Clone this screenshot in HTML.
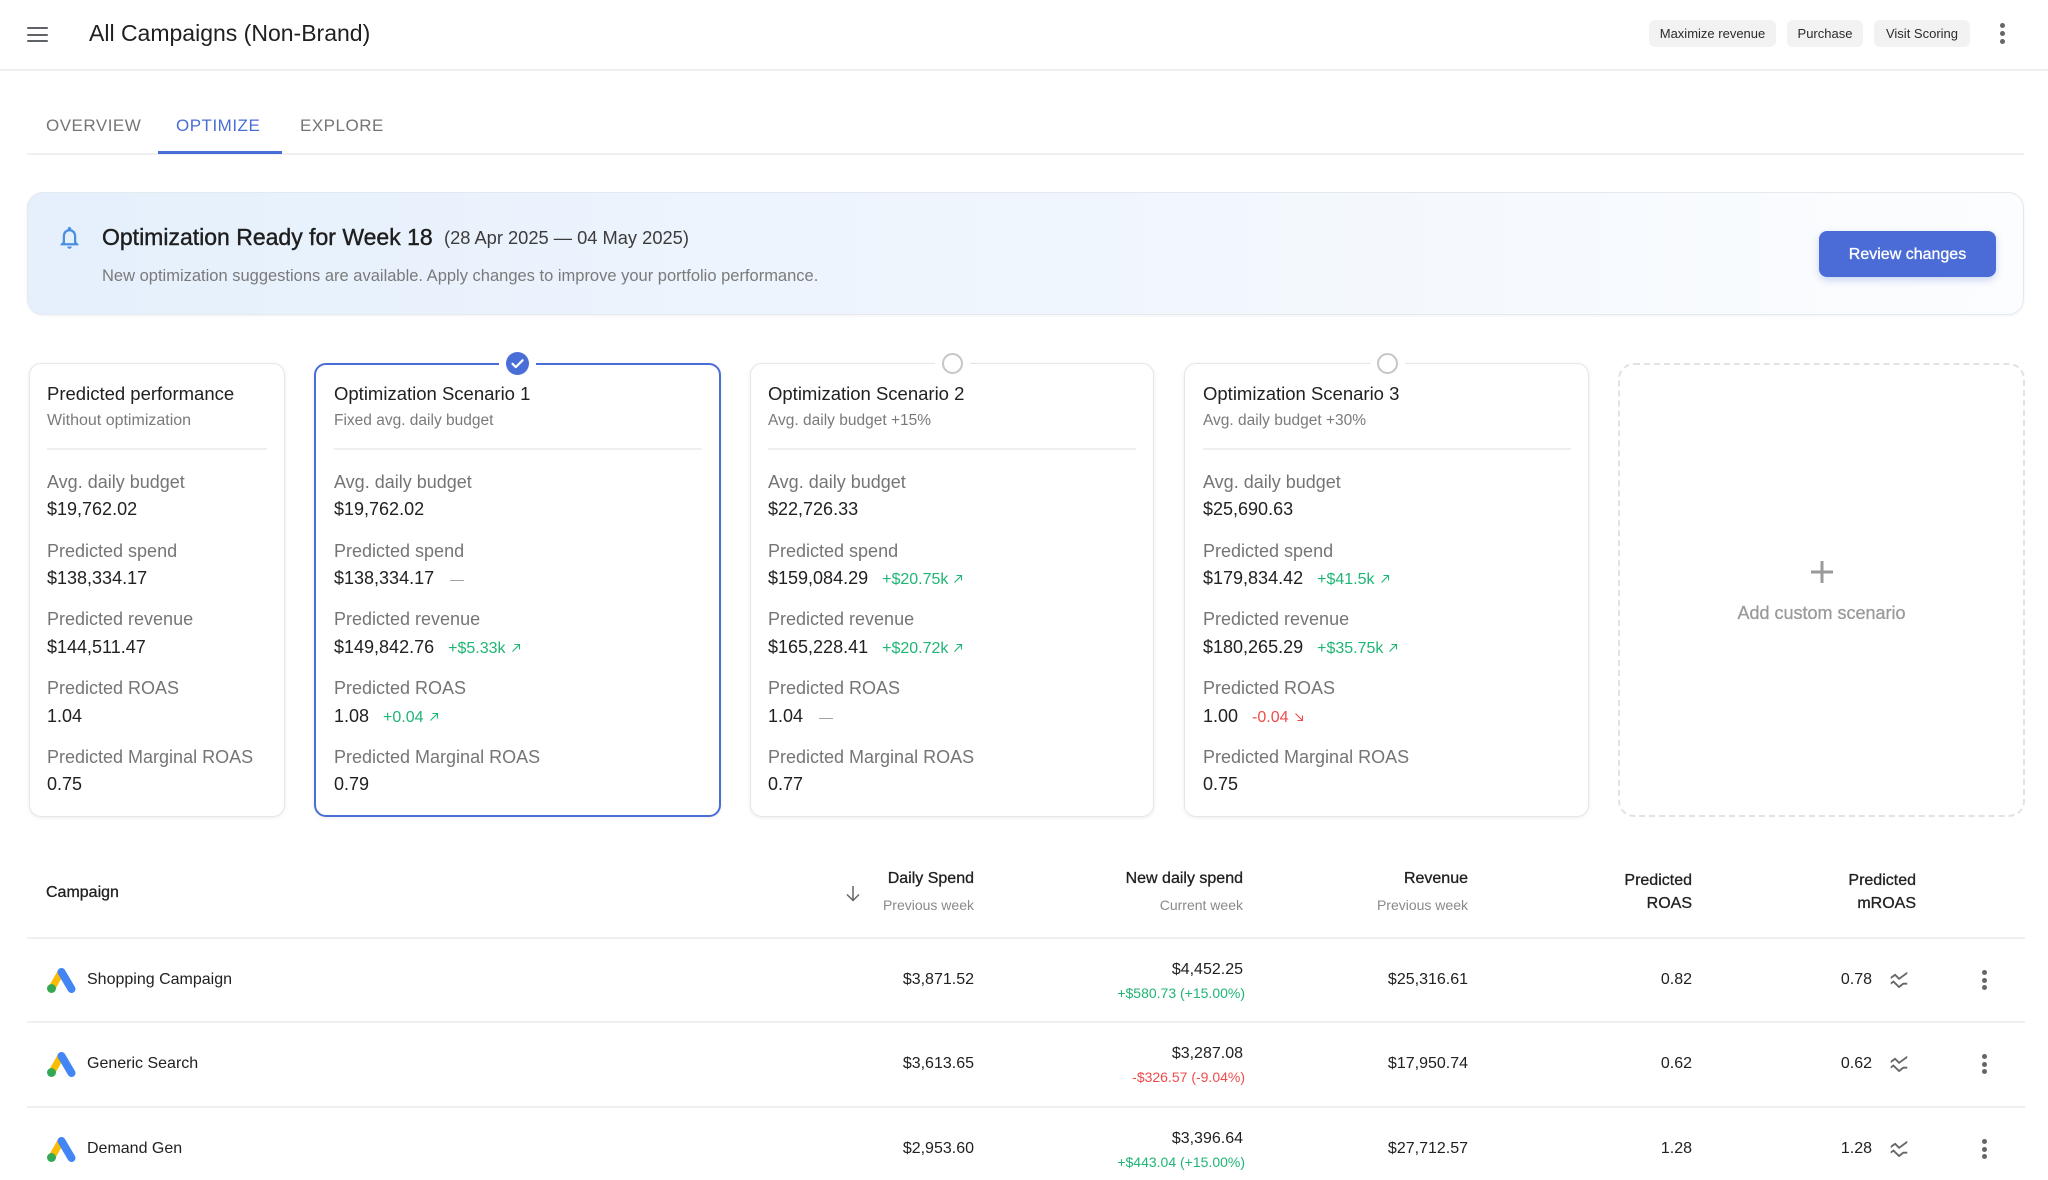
<!DOCTYPE html>
<html><head><meta charset="utf-8">
<style>
*{box-sizing:border-box;margin:0;padding:0}
body{width:2048px;height:1180px;overflow:hidden;background:#fff;font-family:"Liberation Sans",Arial,sans-serif;color:#212121;position:relative}
.a{position:absolute;white-space:nowrap}
.hb{position:absolute;left:27px;width:21px;height:2.4px;background:#5f6368;border-radius:1px}
.chip{position:absolute;top:20px;height:27px;line-height:27px;font-size:13px;color:#2b2b2b;background:#f2f2f2;border-radius:6px;text-align:center}
.dot{position:absolute;width:5px;height:5px;border-radius:50%;background:#666}
.tab{position:absolute;top:116px;line-height:20px;font-size:17px;letter-spacing:0.5px;color:#757575}
.card{position:absolute;top:363px;height:454px;border:1px solid #e6e6e6;border-radius:12px;background:#fff;box-shadow:0 1px 4px rgba(0,0,0,0.07)}
.ct{font-size:18.5px;line-height:24px;color:#212121}
.cs{font-size:15.5px;line-height:20px;color:#7a7a7a}
.lb{font-size:18px;line-height:24px;color:#757575}
.vl{font-size:18px;line-height:24px;color:#212121}
.g{color:#1fb574;font-size:16px;margin-left:14px}
.r{color:#f04b4b;font-size:16px;margin-left:14px}
.ds{color:#9e9e9e;font-size:14px;margin-left:16px}
.hr{position:absolute;height:2px;background:#efefef}
.th{font-size:16px;line-height:20px;color:#212121;-webkit-text-stroke:0.3px #212121}
.tsub{font-size:14px;line-height:18px;color:#8a8a8a}
.td{font-size:16px;line-height:20px;color:#212121}
.tg{font-size:14px;line-height:18px;color:#1fb574}
.tr{font-size:14px;line-height:18px;color:#f04b4b}
</style></head><body>

<!-- Top bar -->
<div class="hb" style="top:27px"></div>
<div class="hb" style="top:33.5px"></div>
<div class="hb" style="top:40px"></div>
<div class="a" style="left:89px;top:18px;font-size:23px;line-height:30px;color:#202020">All Campaigns (Non-Brand)</div>
<div class="chip" style="left:1649px;width:127px">Maximize revenue</div>
<div class="chip" style="left:1787px;width:76px">Purchase</div>
<div class="chip" style="left:1874px;width:96px">Visit Scoring</div>
<div class="dot" style="left:1999.5px;top:23px"></div>
<div class="dot" style="left:1999.5px;top:31px"></div>
<div class="dot" style="left:1999.5px;top:39px"></div>
<div class="hr" style="left:0;top:69px;width:2048px"></div>

<!-- Tabs -->
<div class="tab" style="left:46px">OVERVIEW</div>
<div class="tab" style="left:176px;color:#4a6ed8">OPTIMIZE</div>
<div class="tab" style="left:300px">EXPLORE</div>
<div class="hr" style="left:27px;top:153px;width:1997px"></div>
<div class="a" style="left:158px;top:151px;width:124px;height:3px;background:#4a6ed8"></div>

<!-- Banner -->
<div class="a" style="left:27px;top:192px;width:1997px;height:123px;border:1px solid #e3e9ef;border-radius:16px;background:linear-gradient(90deg,#e5f0fc 0%,#eef5fd 45%,#fcfdfe 100%);box-shadow:0 1px 3px rgba(0,0,0,0.05)"></div>
<svg class="a" style="left:56px;top:224px" width="27" height="27" viewBox="0 0 24 24"><path fill="#4a90e2" d="M12 22c1.1 0 2-.9 2-2h-4c0 1.1.9 2 2 2zm6-6v-5c0-3.070-1.63-5.64-4.5-6.32V4c0-.83-.67-1.5-1.5-1.5s-1.5.67-1.5 1.5v.68C7.640 5.36 6 7.92 6 11v5l-2 2v1h16v-1l-2-2zm-2 1H8v-6c0-2.48 1.51-4.5 4-4.5s4 2.02 4 4.5v6z"/></svg>
<div class="a" style="left:102px;top:222px;font-size:23px;line-height:30px;color:#1e1e1e;-webkit-text-stroke:0.4px #1e1e1e">Optimization Ready for Week 18</div>
<div class="a" style="left:444px;top:226px;font-size:18.3px;line-height:24px;color:#3c3c3c">(28 Apr 2025 — 04 May 2025)</div>
<div class="a" style="left:102px;top:266px;font-size:16.5px;line-height:20px;color:#7a7a7a">New optimization suggestions are available. Apply changes to improve your portfolio performance.</div>
<div class="a" style="left:1819px;top:231px;width:177px;height:46px;line-height:47px;border-radius:8px;background:#4b6cd6;color:#fff;font-size:16px;text-align:center;-webkit-text-stroke:0.3px #fff;box-shadow:0 3px 8px rgba(75,108,214,0.28)">Review changes</div>

<!-- Cards -->
<div class="card" style="left:29px;width:256px"></div>
<div class="card" style="left:314px;width:407px;border:2px solid #4a6ed8"></div>
<div class="card" style="left:750px;width:404px"></div>
<div class="card" style="left:1184px;width:405px"></div>
<div class="a" style="left:1618px;top:363px;width:407px;height:454px;border:2px dashed #e6e1e1;border-radius:16px"></div>

<!-- selection indicators -->
<div class="a" style="left:499px;top:352px;width:37px;height:20px;background:#fff"></div>
<div class="a" style="left:506px;top:352px;width:23px;height:23px;border-radius:50%;background:#4a6ed8"></div>
<svg class="a" style="left:506px;top:352px" width="23" height="23" viewBox="0 0 23 23"><path d="M6.5 11.8l3.3 3.3 6.8-6.8" fill="none" stroke="#fff" stroke-width="2.2" stroke-linecap="round" stroke-linejoin="round"/></svg>
<div class="a" style="left:935px;top:352px;width:35px;height:20px;background:#fff"></div>
<div class="a" style="left:941.5px;top:352.5px;width:21px;height:21px;border-radius:50%;border:2px solid #c6c6c6;background:#fff"></div>
<div class="a" style="left:1370px;top:352px;width:35px;height:20px;background:#fff"></div>
<div class="a" style="left:1376.5px;top:352.5px;width:21px;height:21px;border-radius:50%;border:2px solid #c6c6c6;background:#fff"></div>

<!-- Card 1 -->
<div class="a ct" style="left:47px;top:382px">Predicted performance</div>
<div class="a cs" style="left:47px;top:411px;font-size:16px">Without optimization</div>
<div class="hr" style="left:47px;top:448px;width:220px"></div>
<div class="a lb" style="left:47px;top:470px">Avg. daily budget</div>
<div class="a vl" style="left:47px;top:497px">$19,762.02</div>
<div class="a lb" style="left:47px;top:539px">Predicted spend</div>
<div class="a vl" style="left:47px;top:566px">$138,334.17</div>
<div class="a lb" style="left:47px;top:607px">Predicted revenue</div>
<div class="a vl" style="left:47px;top:635px">$144,511.47</div>
<div class="a lb" style="left:47px;top:676px">Predicted ROAS</div>
<div class="a vl" style="left:47px;top:704px">1.04</div>
<div class="a lb" style="left:47px;top:745px">Predicted Marginal ROAS</div>
<div class="a vl" style="left:47px;top:772px">0.75</div>

<!-- Card 2 -->
<div class="a ct" style="left:334px;top:382px">Optimization Scenario 1</div>
<div class="a cs" style="left:334px;top:411px">Fixed avg. daily budget</div>
<div class="hr" style="left:334px;top:448px;width:368px"></div>
<div class="a lb" style="left:334px;top:470px">Avg. daily budget</div>
<div class="a vl" style="left:334px;top:497px">$19,762.02</div>
<div class="a lb" style="left:334px;top:539px">Predicted spend</div>
<div class="a vl" style="left:334px;top:566px">$138,334.17<span class="ds">—</span></div>
<div class="a lb" style="left:334px;top:607px">Predicted revenue</div>
<div class="a vl" style="left:334px;top:635px">$149,842.76<span class="g">+$5.33k<svg width="10" height="10" viewBox="0 0 10 10" style="margin-left:5px"><path d="M1.5 8.5L8.5 1.5M3.5 1.5H8.5V6.5" fill="none" stroke="currentColor" stroke-width="1.1"/></svg></span></div>
<div class="a lb" style="left:334px;top:676px">Predicted ROAS</div>
<div class="a vl" style="left:334px;top:704px">1.08<span class="g">+0.04<svg width="10" height="10" viewBox="0 0 10 10" style="margin-left:5px"><path d="M1.5 8.5L8.5 1.5M3.5 1.5H8.5V6.5" fill="none" stroke="currentColor" stroke-width="1.1"/></svg></span></div>
<div class="a lb" style="left:334px;top:745px">Predicted Marginal ROAS</div>
<div class="a vl" style="left:334px;top:772px">0.79</div>

<!-- Card 3 -->
<div class="a ct" style="left:768px;top:382px">Optimization Scenario 2</div>
<div class="a cs" style="left:768px;top:411px">Avg. daily budget +15%</div>
<div class="hr" style="left:768px;top:448px;width:368px"></div>
<div class="a lb" style="left:768px;top:470px">Avg. daily budget</div>
<div class="a vl" style="left:768px;top:497px">$22,726.33</div>
<div class="a lb" style="left:768px;top:539px">Predicted spend</div>
<div class="a vl" style="left:768px;top:566px">$159,084.29<span class="g">+$20.75k<svg width="10" height="10" viewBox="0 0 10 10" style="margin-left:5px"><path d="M1.5 8.5L8.5 1.5M3.5 1.5H8.5V6.5" fill="none" stroke="currentColor" stroke-width="1.1"/></svg></span></div>
<div class="a lb" style="left:768px;top:607px">Predicted revenue</div>
<div class="a vl" style="left:768px;top:635px">$165,228.41<span class="g">+$20.72k<svg width="10" height="10" viewBox="0 0 10 10" style="margin-left:5px"><path d="M1.5 8.5L8.5 1.5M3.5 1.5H8.5V6.5" fill="none" stroke="currentColor" stroke-width="1.1"/></svg></span></div>
<div class="a lb" style="left:768px;top:676px">Predicted ROAS</div>
<div class="a vl" style="left:768px;top:704px">1.04<span class="ds">—</span></div>
<div class="a lb" style="left:768px;top:745px">Predicted Marginal ROAS</div>
<div class="a vl" style="left:768px;top:772px">0.77</div>

<!-- Card 4 -->
<div class="a ct" style="left:1203px;top:382px">Optimization Scenario 3</div>
<div class="a cs" style="left:1203px;top:411px">Avg. daily budget +30%</div>
<div class="hr" style="left:1203px;top:448px;width:368px"></div>
<div class="a lb" style="left:1203px;top:470px">Avg. daily budget</div>
<div class="a vl" style="left:1203px;top:497px">$25,690.63</div>
<div class="a lb" style="left:1203px;top:539px">Predicted spend</div>
<div class="a vl" style="left:1203px;top:566px">$179,834.42<span class="g">+$41.5k<svg width="10" height="10" viewBox="0 0 10 10" style="margin-left:5px"><path d="M1.5 8.5L8.5 1.5M3.5 1.5H8.5V6.5" fill="none" stroke="currentColor" stroke-width="1.1"/></svg></span></div>
<div class="a lb" style="left:1203px;top:607px">Predicted revenue</div>
<div class="a vl" style="left:1203px;top:635px">$180,265.29<span class="g">+$35.75k<svg width="10" height="10" viewBox="0 0 10 10" style="margin-left:5px"><path d="M1.5 8.5L8.5 1.5M3.5 1.5H8.5V6.5" fill="none" stroke="currentColor" stroke-width="1.1"/></svg></span></div>
<div class="a lb" style="left:1203px;top:676px">Predicted ROAS</div>
<div class="a vl" style="left:1203px;top:704px">1.00<span class="r">-0.04<svg width="10" height="10" viewBox="0 0 10 10" style="margin-left:5px"><path d="M1.5 1.5L8.5 8.5M3.5 8.5H8.5V3.5" fill="none" stroke="currentColor" stroke-width="1.1"/></svg></span></div>
<div class="a lb" style="left:1203px;top:745px">Predicted Marginal ROAS</div>
<div class="a vl" style="left:1203px;top:772px">0.75</div>

<!-- Card 5 -->
<svg class="a" style="left:1810px;top:560px" width="24" height="24" viewBox="0 0 24 24"><path d="M12 1V23M1 12H23" stroke="#9a9a9a" stroke-width="3"/></svg>
<div class="a" style="left:1618px;width:407px;top:601px;text-align:center;font-size:18px;line-height:24px;color:#9a9a9a;-webkit-text-stroke:0.3px #9a9a9a">Add custom scenario</div>

<!-- Table header -->
<div class="a th" style="left:46px;top:883px">Campaign</div>
<svg class="a" style="left:845px;top:885px" width="16" height="17" viewBox="0 0 16 17"><path d="M8 1V15.5M2 9.5L8 15.5L14 9.5" fill="none" stroke="#666" stroke-width="1.5"/></svg>
<div class="a th" style="right:1074px;top:869px">Daily Spend</div>
<div class="a tsub" style="right:1074px;top:896px">Previous week</div>
<div class="a th" style="right:805px;top:869px">New daily spend</div>
<div class="a tsub" style="right:805px;top:896px">Current week</div>
<div class="a th" style="right:580px;top:869px">Revenue</div>
<div class="a tsub" style="right:580px;top:896px">Previous week</div>
<div class="a th" style="right:356px;top:871px;text-align:right">Predicted</div>
<div class="a th" style="right:356px;top:894px">ROAS</div>
<div class="a th" style="right:132px;top:871px">Predicted</div>
<div class="a th" style="right:132px;top:894px">mROAS</div>
<div class="hr" style="left:27px;top:937px;width:1998px"></div>
<div class="hr" style="left:27px;top:1021px;width:1998px"></div>
<div class="hr" style="left:27px;top:1106px;width:1998px"></div>

<!-- Row 1 -->
<svg class="a" style="left:46px;top:967px" width="31" height="27" viewBox="0 0 31 27"><path d="M15 5L6 21" stroke="#fbbc04" stroke-width="7" stroke-linecap="round"/><path d="M15.5 5L25.5 22" stroke="#4285f4" stroke-width="8" stroke-linecap="round"/><circle cx="5.5" cy="21.5" r="4.5" fill="#34a853"/></svg>
<div class="a td" style="left:87px;top:970px">Shopping Campaign</div>
<div class="a td" style="right:1074px;top:970px">$3,871.52</div>
<div class="a td" style="right:805px;top:960px">$4,452.25</div>
<div class="a tg" style="right:803px;top:984px">+$580.73 (+15.00%)</div>
<div class="a td" style="right:580px;top:970px">$25,316.61</div>
<div class="a td" style="right:356px;top:970px">0.82</div>
<div class="a td" style="right:176px;top:970px">0.78</div>
<svg class="a" style="left:1888px;top:969px" width="22" height="22" viewBox="0 0 24 24"><path fill="#666" d="M21 5.47 12 12 7.62 7.62 3 11V8.52L7.83 5l4.38 4.38L21 3v2.47zM21 15h-4.7l-4.17 3.34L6 12.41l-3 2.13V17l2.8-2 6.2 6 5-4h4v-2z"/></svg>
<div class="dot" style="left:1981.5px;top:970px"></div>
<div class="dot" style="left:1981.5px;top:977.5px"></div>
<div class="dot" style="left:1981.5px;top:985px"></div>

<!-- Row 2 -->
<svg class="a" style="left:46px;top:1051px" width="31" height="27" viewBox="0 0 31 27"><path d="M15 5L6 21" stroke="#fbbc04" stroke-width="7" stroke-linecap="round"/><path d="M15.5 5L25.5 22" stroke="#4285f4" stroke-width="8" stroke-linecap="round"/><circle cx="5.5" cy="21.5" r="4.5" fill="#34a853"/></svg>
<div class="a td" style="left:87px;top:1054px">Generic Search</div>
<div class="a td" style="right:1074px;top:1054px">$3,613.65</div>
<div class="a td" style="right:805px;top:1044px">$3,287.08</div>
<div class="a tr" style="right:803px;top:1068px">-$326.57 (-9.04%)</div>
<div class="a td" style="right:580px;top:1054px">$17,950.74</div>
<div class="a td" style="right:356px;top:1054px">0.62</div>
<div class="a td" style="right:176px;top:1054px">0.62</div>
<svg class="a" style="left:1888px;top:1053px" width="22" height="22" viewBox="0 0 24 24"><path fill="#666" d="M21 5.47 12 12 7.62 7.62 3 11V8.52L7.83 5l4.38 4.38L21 3v2.47zM21 15h-4.7l-4.17 3.34L6 12.41l-3 2.13V17l2.8-2 6.2 6 5-4h4v-2z"/></svg>
<div class="dot" style="left:1981.5px;top:1054px"></div>
<div class="dot" style="left:1981.5px;top:1061.5px"></div>
<div class="dot" style="left:1981.5px;top:1069px"></div>

<!-- Row 3 -->
<svg class="a" style="left:46px;top:1136px" width="31" height="27" viewBox="0 0 31 27"><path d="M15 5L6 21" stroke="#fbbc04" stroke-width="7" stroke-linecap="round"/><path d="M15.5 5L25.5 22" stroke="#4285f4" stroke-width="8" stroke-linecap="round"/><circle cx="5.5" cy="21.5" r="4.5" fill="#34a853"/></svg>
<div class="a td" style="left:87px;top:1139px">Demand Gen</div>
<div class="a td" style="right:1074px;top:1139px">$2,953.60</div>
<div class="a td" style="right:805px;top:1129px">$3,396.64</div>
<div class="a tg" style="right:803px;top:1153px">+$443.04 (+15.00%)</div>
<div class="a td" style="right:580px;top:1139px">$27,712.57</div>
<div class="a td" style="right:356px;top:1139px">1.28</div>
<div class="a td" style="right:176px;top:1139px">1.28</div>
<svg class="a" style="left:1888px;top:1138px" width="22" height="22" viewBox="0 0 24 24"><path fill="#666" d="M21 5.47 12 12 7.62 7.62 3 11V8.52L7.83 5l4.38 4.38L21 3v2.47zM21 15h-4.7l-4.17 3.34L6 12.41l-3 2.13V17l2.8-2 6.2 6 5-4h4v-2z"/></svg>
<div class="dot" style="left:1981.5px;top:1139px"></div>
<div class="dot" style="left:1981.5px;top:1146.5px"></div>
<div class="dot" style="left:1981.5px;top:1154px"></div>

</body></html>
